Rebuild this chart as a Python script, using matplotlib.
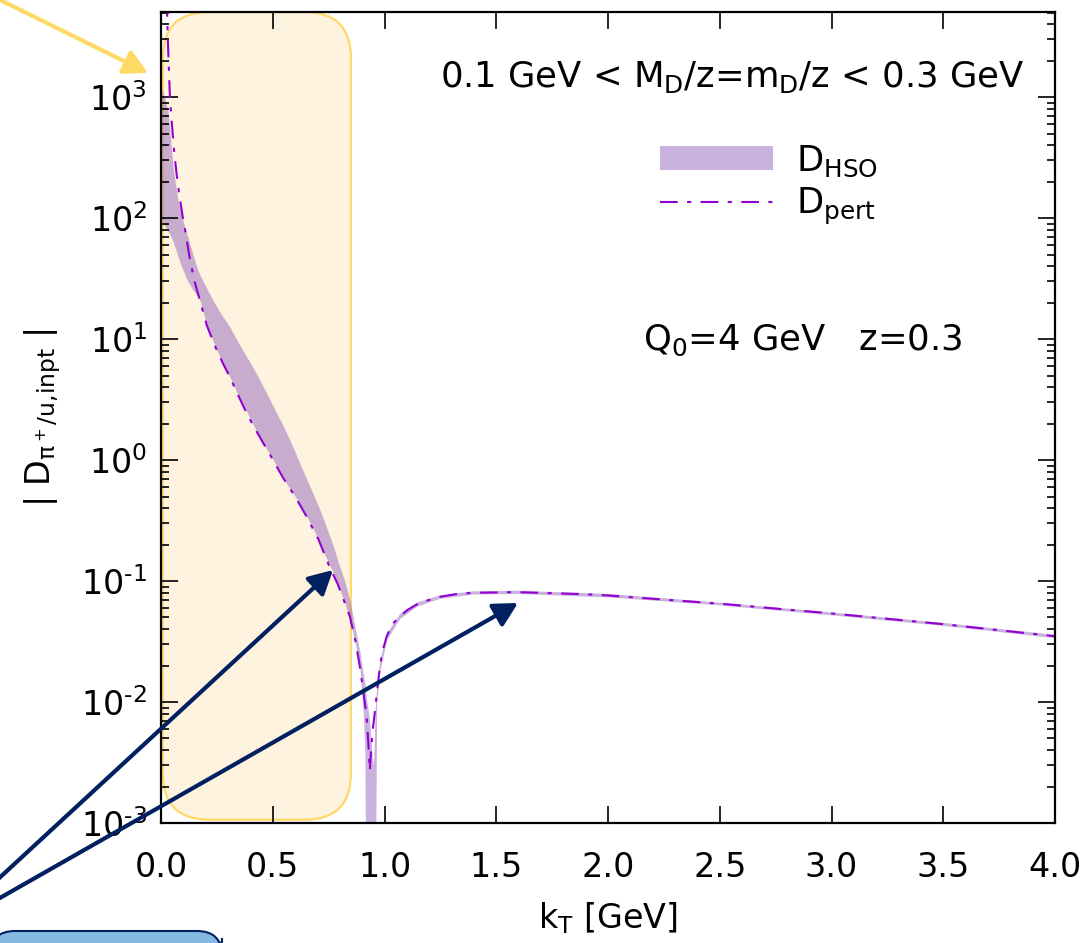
import numpy as np
import matplotlib.pyplot as plt
from matplotlib.patches import FancyBboxPatch, FancyArrowPatch, Patch
from matplotlib.lines import Line2D
from matplotlib.transforms import IdentityTransform

plt.rcParams['font.family'] = ['DejaVu Sans']
plt.rcParams['font.size'] = 24
plt.rcParams['mathtext.default'] = 'regular'
plt.rcParams['axes.unicode_minus'] = False
plt.rcParams['axes.linewidth'] = 1.6

# perturbative TMD FF, |D_pert| vs kT [GeV]
k_pert = [0.010, 0.020, 0.027, 0.033, 0.040, 0.050, 0.060, 0.070, 0.080, 0.090,
          0.098, 0.112, 0.130, 0.150, 0.174, 0.205, 0.240, 0.277, 0.310, 0.340,
          0.390, 0.442, 0.495, 0.545, 0.600, 0.652, 0.705, 0.755, 0.790, 0.820,
          0.845, 0.870, 0.890, 0.910, 0.920, 0.928, 0.934, 0.940, 0.948, 0.956,
          0.965, 0.979, 0.993, 1.010, 1.035, 1.068, 1.105, 1.144, 1.190, 1.247,
          1.320, 1.394, 1.591, 1.886, 2.000, 2.500, 3.000, 3.500, 4.000]
d_pert = [4e4, 1e4, 5.0e3, 2.2e3, 1.0e3, 5.6e2, 3.4e2, 2.3e2, 1.65e2, 1.25e2,
          100, 72, 45, 30, 21, 13, 8.9, 6.3, 4.8, 3.6,
          2.3, 1.55, 1.05, 0.72, 0.50, 0.34, 0.22, 0.13, 0.095, 0.068,
          0.051, 0.032, 0.0195, 0.0105, 0.0076, 0.0045, 0.0027, 0.0040, 0.0060, 0.0080,
          0.0115, 0.0195, 0.027, 0.035, 0.044, 0.051, 0.058, 0.064, 0.069, 0.074,
          0.078, 0.080, 0.081, 0.078, 0.076, 0.065, 0.054, 0.044, 0.035]

# HSO band, lower / upper edge
k_hso = [0.000, 0.015, 0.031, 0.040, 0.054, 0.065, 0.076, 0.094, 0.116, 0.140,
         0.161, 0.174, 0.197, 0.232, 0.270, 0.308, 0.340, 0.375, 0.410, 0.442,
         0.475, 0.510, 0.545, 0.577, 0.610, 0.644, 0.678, 0.711, 0.740, 0.769,
         0.795, 0.822, 0.845, 0.870, 0.890, 0.905, 0.912, 0.918, 0.930, 0.940,
         0.947, 0.952, 0.958, 0.965, 0.979, 1.010, 1.068, 1.144, 1.247, 1.394,
         1.591, 2.000, 2.500, 3.000, 3.500, 4.000]
hso_lo = [100, 88, 78, 74, 64, 56, 48, 39, 31, 26,
          23, 21, 14.8, 9.7, 6.7, 4.9, 3.6, 2.7, 2.0, 1.55,
          1.22, 0.95, 0.72, 0.58, 0.47, 0.36, 0.28, 0.205, 0.155, 0.12,
          0.09, 0.066, 0.048, 0.030, 0.0195, 0.008, 0.004, 1e-4, 1e-4, 1e-4,
          1e-4, 1e-4, 1e-4, 0.0100, 0.0180, 0.0330, 0.0490, 0.0620, 0.0720, 0.0780,
          0.0790, 0.0740, 0.0635, 0.0525, 0.0430, 0.0340]
hso_hi = [1230, 1000, 780, 520, 263, 190, 141, 102, 74, 52,
          39, 34, 28, 21, 16, 12.6, 9.8, 7.6, 5.9, 4.6,
          3.5, 2.6, 1.95, 1.46, 1.05, 0.75, 0.54, 0.39, 0.28, 0.20,
          0.14, 0.10, 0.070, 0.040, 0.026, 0.017, 0.0145, 0.011, 0.0079, 0.005,
          0.003, 0.0035, 0.0085, 0.0135, 0.0225, 0.0375, 0.0540, 0.0670, 0.0770, 0.0830,
          0.0840, 0.0790, 0.0670, 0.0555, 0.0455, 0.0362]

W, H = 1086, 943
fig = plt.figure(figsize=(W / 100, H / 100), dpi=100)
ax = fig.add_axes([161 / W, 120 / H, 894 / W, 811 / H])

# highlighted low-kT region
ax.add_patch(FancyBboxPatch((0.002, 0.004), 0.2105, 0.996,
                            boxstyle='round,pad=0,rounding_size=0.052',
                            mutation_aspect=894 / 811, transform=ax.transAxes,
                            fc='#fdf3de', ec='#ffd966', lw=1.6, zorder=0.5))

ax.fill_between(k_hso, hso_lo, hso_hi, color='#9467bd', alpha=0.5, lw=0, zorder=1)
ax.plot(k_pert, d_pert, color='#9400d3', lw=1.5, dashes=(8.5, 4.5, 2, 4.5), zorder=2)

ax.set_yscale('log')
ax.set_xlim(0, 4)
ax.set_ylim(1e-3, 5.06e3)
ax.set_xticks(np.arange(0, 4.01, 0.5))
ax.xaxis.set_major_formatter(plt.FormatStrFormatter('%.1f'))
ax.yaxis.set_major_formatter(plt.FuncFormatter(
    lambda v, pos: r'$10^{%s}$' % (r'\text{-}%d' % -round(np.log10(v))
                                   if v < 1 else '%d' % round(np.log10(v)))))
ax.tick_params(which='both', direction='in', top=True, right=True)
ax.tick_params(which='major', length=12, width=1.2)
ax.tick_params(which='minor', length=6, width=1.2)
ax.tick_params(axis='x', which='minor', bottom=False, top=False)
ax.tick_params(axis='x', pad=20)
ax.tick_params(axis='y', pad=10)

ax.set_xlabel(r'k$_T$ [GeV]', labelpad=12)
ax.set_ylabel(r'| D$_{\pi^+/u{,}inpt}$ |')
ax.yaxis.set_label_coords(-0.11, 0.5)

ax.text(0.966, 0.9075, r'0.1 GeV < M$_D$/z=m$_D$/z < 0.3 GeV', fontsize=25.5,
        ha='right', va='baseline', transform=ax.transAxes)
ax.text(0.539, 0.583, r'Q$_0$=4 GeV   z=0.3', fontsize=25.5,
        ha='left', va='baseline', transform=ax.transAxes)

handles = [Patch(facecolor='#9467bd', alpha=0.5, edgecolor='none'),
           Line2D([], [], color='#9400d3', lw=1.5, dashes=(8.5, 4.5, 2, 4.5))]
ax.legend(handles, [r'D$_{HSO}$', r'D$_{pert}$'], loc='upper left',
          bbox_to_anchor=(0.558, 0.838), frameon=False, borderpad=0,
          borderaxespad=0, handlelength=3.2, handletextpad=0.65,
          labelspacing=0.2, handleheight=0.65, fontsize=25.5)

# callout arrows and box, in pixel coordinates
px = IdentityTransform()
fig.add_artist(FancyBboxPatch((-10, -20), 232, 32,
                              boxstyle='round,pad=0,rounding_size=25',
                              transform=px, fc='#85b9e1', ec='#002060', lw=1.5))
head = '-|>,head_length=0.6,head_width=0.32'
fig.add_artist(FancyArrowPatch((-20, 953), (148, 870), transform=px,
                               arrowstyle=head, mutation_scale=24, lw=3,
                               color='#ffd966', shrinkA=0, shrinkB=0))
for tail, tip in [((-30, 38), (333, 373)), ((-30, 28), (518, 340))]:
    fig.add_artist(FancyArrowPatch(tail, tip, transform=px,
                                   arrowstyle=head, mutation_scale=24, lw=3,
                                   color='#002060', shrinkA=0, shrinkB=0))

fig.savefig('out.png', dpi=100)
